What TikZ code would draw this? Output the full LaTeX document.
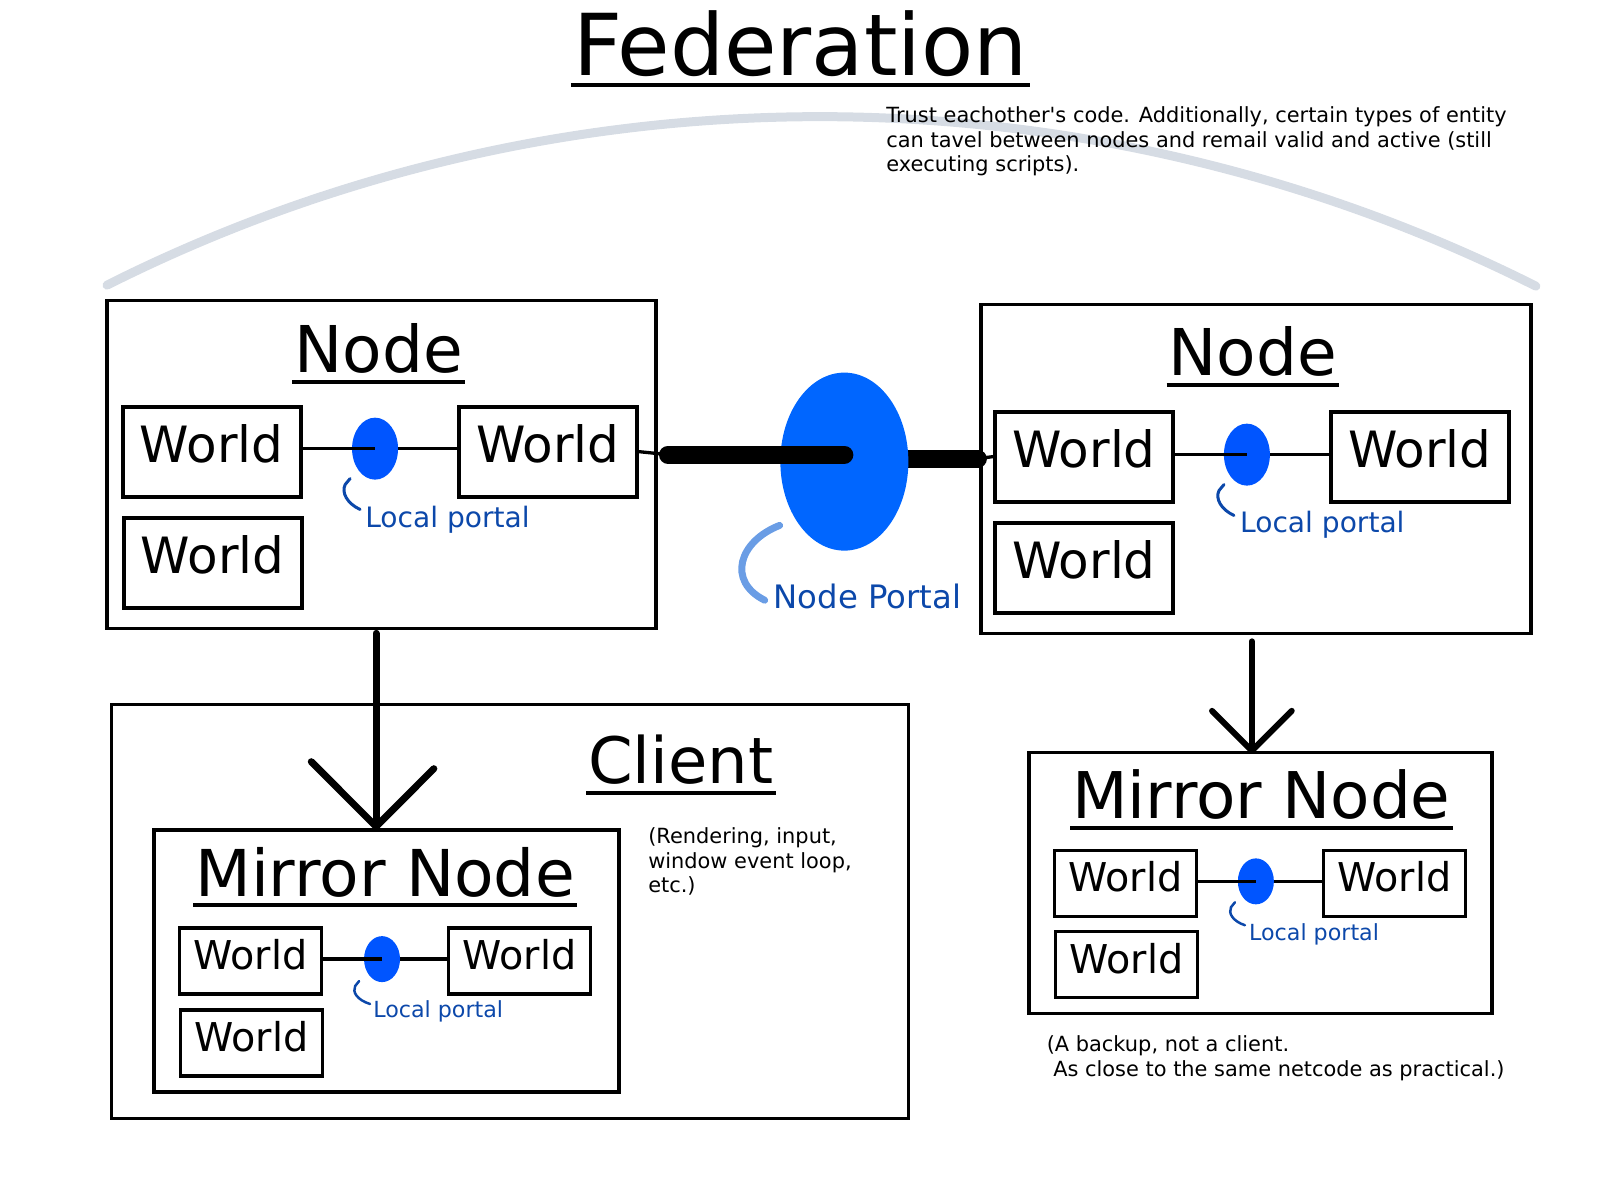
\documentclass[tikz,border=0pt]{standalone}
\usepackage{fontspec}
\setmainfont{DejaVu Sans}
\usetikzlibrary{shapes.geometric}
\definecolor{portalblue}{RGB}{0,85,255}
\definecolor{bigportal}{RGB}{0,102,255}
\definecolor{labelblue}{RGB}{12,72,170}
\definecolor{brushblue}{RGB}{80,140,225}
\definecolor{arcgray}{RGB}{214,220,228}
\tikzset{
  box/.style={draw, line width=3.5pt, inner sep=0pt},
  world/.style={draw, line width=4pt, inner sep=0pt, text depth=17pt,
    font=\fontsize{50}{60}\selectfont, minimum width=178pt, minimum height=90pt},
  miniworld/.style={world, line width=3.5pt, text depth=13pt,
    font=\fontsize{39.7}{47}\selectfont, minimum width=142pt, minimum height=66pt},
  portal/.style={ellipse, fill=portalblue, inner sep=0pt, minimum width=46pt, minimum height=62pt},
  miniportal/.style={portal, minimum width=36pt, minimum height=46pt},
  link/.style={line width=3.3pt},
  bar/.style={line width=18pt, line cap=round},
  title/.style={anchor=base, inner sep=0pt},
  underline/.style={line width=4pt},
  note/.style={anchor=north west, inner sep=0pt, align=left, font=\fontsize{20.9}{24.5}\selectfont},
  portallabel/.style={anchor=base west, inner sep=0pt, text=labelblue, font=\fontsize{28.1}{34}\selectfont},
  miniportallabel/.style={portallabel, font=\fontsize{22.2}{26}\selectfont},
  hook/.style={draw=labelblue, line width=3pt, line cap=round, line join=round},
  arrowline/.style={line width=7pt, line cap=round, line join=round},
}
\begin{document}
\begin{tikzpicture}[x=1pt,y=-1pt]
\useasboundingbox (0,0) rectangle (1600,1200);
\begin{scope}[x=0.9964pt, y=-0.997pt, xshift=1.4pt]
% federation arc and title
\draw[arcgray, line width=9pt, line cap=round] (106,286) .. controls (556,60) and (1090,61) .. (1540,287);
\node[title, font=\fontsize{85.4}{102}\selectfont] (fed) at (802,76) {Federation};
\draw[underline] ([shift={(-2,9)}]fed.base west) -- ([shift={(2,9)}]fed.base east);
\node[note] (trust) at (888,107) {Trust eachother\textquotesingle s code. Additionally, certain types of entity\\can tavel between nodes and remail valid and active (still\\executing scripts).};

% left node
\node[box, minimum width=549pt, minimum height=328pt] (lnode) at (381.5,466) {};
\node[title, font=\fontsize{64.5}{77}\selectfont] (ltitle) at (378.5,374) {Node};
\draw[underline] ([shift={(-2,9)}]ltitle.base west) -- ([shift={(2,9)}]ltitle.base east);
\node[world] (lw1) at (211,453) {World};
\node[world] (lw2) at (548.5,453) {World};
\node[world] (lw3) at (212,564.5) {World};
\node[portal] (lp) at (375,450) {};
\draw[link] (lw1.east |- lp.center) -- (lp.center);
\draw[link] (lp.east) -- (lw2.west |- lp.east);
\node[portallabel] (llabel) at (365,529) {Local portal};
\draw[hook] (350,480) -- (345,486) .. controls (341,494) and (347,505) .. (360,511);

% right node
\node[box, minimum width=550pt, minimum height=329pt] (rnode) at (1259,470.5) {};
\node[title, font=\fontsize{64.5}{77}\selectfont] (rtitle) at (1256,377) {Node};
\draw[underline] ([shift={(-2,9)}]rtitle.base west) -- ([shift={(2,9)}]rtitle.base east);
\node[world] (rw1) at (1086.5,458) {World};
\node[world] (rw2) at (1423.5,458) {World};
\node[world] (rw3) at (1086.5,569.5) {World};
\node[portal] (rp) at (1250,456) {};
\draw[link] (rw1.east |- rp.center) -- (rp.center);
\draw[link] (rp.east) -- (rw2.west |- rp.east);
\node[portallabel] (rlabel) at (1243,534) {Local portal};
\draw[hook] (1227,486) -- (1222,492) .. controls (1218,500) and (1224,511) .. (1237,517);

% node portal
\coordinate (npc) at (846,463);
\coordinate (barL) at (669,456);
\coordinate (barR) at (980,460);
\draw[bar] (npc |- barR) -- (barR);
\draw[link] (barR) -- (rw1.west);
\node[ellipse, fill=bigportal, inner sep=0pt, minimum width=128pt, minimum height=178pt] (np) at (npc) {};
\draw[link] (lw2.east) -- (barL);
\draw[bar] (barL) -- (np.center |- barL);
\node[portallabel, font=\fontsize{32.3}{38}\selectfont] (nplabel) at (775,610) {Node Portal};
\draw[brushblue, line width=7pt, line cap=round, opacity=.85] (781,527) .. controls (740,543) and (728,583) .. (766,602);

% client
\node[box, minimum width=797pt, minimum height=414pt] (client) at (510.5,914) {};
\node[title, font=\fontsize{64}{76}\selectfont] (ctitle) at (682,786) {Client};
\draw[underline] ([shift={(-2,9)}]ctitle.base west) -- ([shift={(2,9)}]ctitle.base east);
\node[note] (cnote) at (649,830) {(Rendering, input,\\window event loop,\\etc.)};
\node[box, minimum width=465pt, minimum height=262pt] (cmirror) at (386.5,964) {};
\node[title, font=\fontsize{64.6}{77}\selectfont] (cmtitle) at (385,899) {Mirror Node};
\draw[underline] ([shift={(-2,9)}]cmtitle.base west) -- ([shift={(2,9)}]cmtitle.base east);
\node[miniworld] (cw1) at (250,964) {World};
\node[miniworld] (cw2) at (520,964) {World};
\node[miniworld] (cw3) at (251,1046) {World};
\node[miniportal] (cp) at (382,962) {};
\draw[link] (cw1.east |- cp.center) -- (cp.center);
\draw[link] (cp.east) -- (cw2.west |- cp.east);
\node[miniportallabel] (clabel) at (373,1021) {Local portal};
\draw[hook, line width=2.5pt] (359,984) -- (355,989) .. controls (352,995) and (357,1003) .. (370,1007);

% arrow node -> client mirror
\coordinate (ltip) at (376,829);
\draw[arrowline, shorten <=3pt] (ltip |- lnode.south) -- (ltip);
\draw[arrowline] ([shift={(-65,-65)}]ltip) -- (ltip) -- ([shift={(58,-58)}]ltip);

% mirror node (backup)
\node[box, minimum width=463pt, minimum height=261pt] (mirror) at (1263.5,885.5) {};
\node[title, font=\fontsize{64.4}{77}\selectfont] (mtitle) at (1264.5,821) {Mirror Node};
\draw[underline] ([shift={(-2,9)}]mtitle.base west) -- ([shift={(2,9)}]mtitle.base east);
\node[miniworld] (mw1) at (1128,886) {World};
\node[miniworld] (mw2) at (1398,886) {World};
\node[miniworld] (mw3) at (1129,967.5) {World};
\node[miniportal] (mp) at (1259,884) {};
\draw[link] (mw1.east |- mp.center) -- (mp.center);
\draw[link] (mp.east) -- (mw2.west |- mp.east);
\node[miniportallabel] (mlabel) at (1252,943) {Local portal};
\draw[hook, line width=2.5pt] (1238,905) -- (1234,910) .. controls (1231,916) and (1236,924) .. (1248,928);
\node[note] (mnote) at (1049,1039) {(A backup, not a client.\\\hspace*{6.5pt}As close to the same netcode as practical.)};

% arrow node -> mirror node
\coordinate (rtip) at (1255,753);
\draw[arrowline, line width=6pt, shorten <=6pt] (rtip |- rnode.south) -- (rtip);
\draw[arrowline, line width=6pt] ([shift={(-40,-40)}]rtip) -- (rtip) -- ([shift={(40,-40)}]rtip);
\end{scope}
\end{tikzpicture}
\end{document}
